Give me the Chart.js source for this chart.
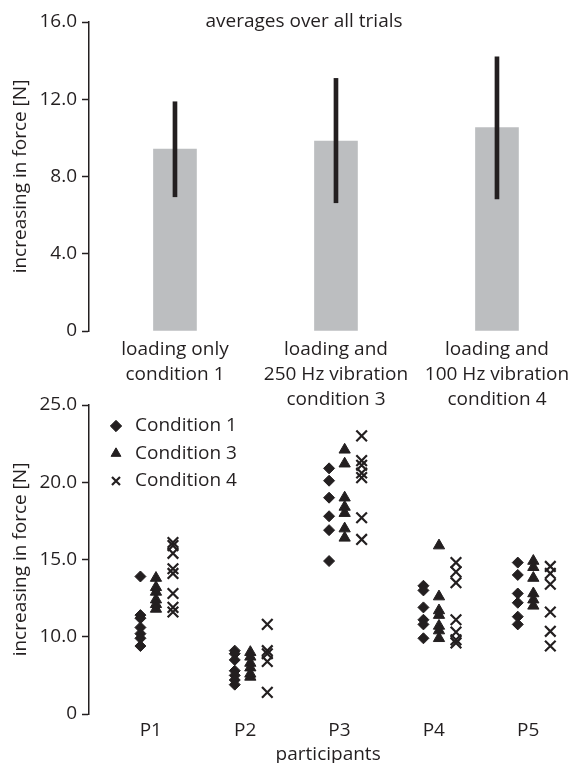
<!DOCTYPE html>
<html>
<head>
<meta charset="utf-8">
<script src="https://cdn.jsdelivr.net/npm/chart.js@4"></script>
<style>
html,body{margin:0;padding:0;background:#ffffff;}
#wrap{position:relative;width:577px;height:763px;overflow:hidden;background:#ffffff;}
#topChart{position:absolute;left:0;top:0;}
#botChart{position:absolute;left:0;top:380px;}
</style>
</head>
<body>
<div id="wrap">
<canvas id="topChart" width="577" height="420"></canvas>
<canvas id="botChart" width="577" height="383"></canvas>
</div>
<script>
// ---------- data: top chart (averages) ----------
const barCategories = [
  ["loading only", "condition 1"],
  ["loading and", "250 Hz vibration", "condition 3"],
  ["loading and", "100 Hz vibration", "condition 4"]
];
const barMeans   = [9.42, 9.84, 10.53];
const barErrLow  = [6.95, 6.64, 6.84];
const barErrHigh = [11.87, 13.08, 14.2];
const topTickValues = [0, 4, 8, 12, 16];
const topTickLabels = ["0", "4.0", "8.0", "12.0", "16.0"];

// ---------- data: bottom chart (per participant) ----------
const participants = ["P1", "P2", "P3", "P4", "P5"];
const conditionNames = ["Condition 1", "Condition 3", "Condition 4"];
const cond1 = [
  [13.9, 11.4, 11.2, 10.6, 10.2, 9.9, 9.4],
  [9.1, 8.9, 8.5, 7.8, 7.5, 7.2, 6.9],
  [20.9, 20.1, 19.0, 17.8, 16.9, 14.9],
  [13.3, 13.0, 11.9, 11.1, 10.8, 9.9],
  [14.8, 14.0, 12.8, 12.2, 11.3, 10.8]
];
const cond3 = [
  [13.8, 13.2, 12.9, 12.4, 12.1, 11.8],
  [9.0, 8.7, 8.3, 8.0, 7.6, 7.4],
  [22.1, 21.2, 19.0, 18.4, 18.0, 17.0, 16.4],
  [15.9, 12.6, 11.7, 11.4, 10.7, 10.4, 9.9],
  [14.9, 14.5, 13.8, 12.8, 12.4, 12.0]
];
const cond4 = [
  [16.1, 15.9, 15.4, 14.4, 14.1, 12.8, 11.9, 11.6],
  [10.8, 9.1, 8.9, 8.4, 6.4],
  [23.0, 21.4, 21.1, 20.6, 20.3, 17.7, 16.3],
  [14.8, 14.2, 13.5, 11.1, 10.3, 9.8, 9.6],
  [14.55, 14.1, 13.4, 11.6, 10.35, 9.4]
];
const bottomTickValues = [5, 10, 15, 20, 25];
const bottomTickLabels = ["0", "10.0", "15.0", "20.0", "25.0"];

// ---------- styling ----------
const INK = "#231f20";
const BAR = "#bcbec0";
const FONT = "'Open Sans', 'Noto Sans', sans-serif";
const FS = 19;
Chart.defaults.font.family = FONT;
Chart.defaults.color = INK;

const conditionOffsets = [-0.11, 0.055, 0.235];
const conditionStyles = [
  { pointStyle: "rectRot",  pointRadius: 5.5, borderWidth: 1 },
  { pointStyle: "triangle", pointRadius: 6.5, borderWidth: 1 },
  { pointStyle: "crossRot", pointRadius: 7.5, borderWidth: 2.2 }
];

const topTitlePlugin = {
  id: "topTitle",
  afterDraw(chart) {
    const ctx = chart.ctx;
    ctx.save();
    ctx.font = FS + "px " + FONT;
    ctx.fillStyle = INK;
    ctx.textAlign = "center";
    ctx.textBaseline = "middle";
    ctx.fillText("averages over all trials", 304, chart.chartArea.top);
    ctx.restore();
  }
};

const legendPlacePlugin = {
  id: "legendPlace",
  afterLayout(chart) {
    const lg = chart.legend;
    if (!lg) return;
    const w = lg.width, h = lg.height;
    lg.left = chart.chartArea.left + 9;
    lg.top = chart.chartArea.top + 3;
    lg.right = lg.left + w;
    lg.bottom = lg.top + h;
  }
};

// ---------- top chart ----------
new Chart(document.getElementById("topChart"), {
  type: "bar",
  data: {
    datasets: [
      {
        label: "error",
        data: barErrLow.map((v, i) => ({ x: i, y: [v, barErrHigh[i]] })),
        backgroundColor: INK,
        barThickness: 4,
        grouped: false,
        order: 1
      },
      {
        label: "mean",
        data: barMeans.map((v, i) => ({ x: i, y: v })),
        backgroundColor: BAR,
        barThickness: 43,
        grouped: false,
        order: 2
      }
    ]
  },
  options: {
    responsive: false,
    animation: false,
    devicePixelRatio: 1,
    layout: { padding: { top: 22, left: 0, right: 5, bottom: 0 } },
    plugins: { legend: { display: false }, tooltip: { enabled: false }, title: { display: false } },
    scales: {
      x: {
        type: "linear",
        min: -0.534,
        max: 2.466,
        offset: false,
        grid: { display: false, drawTicks: false },
        border: { display: false },
        afterBuildTicks: (s) => { s.ticks = barCategories.map((c, i) => ({ value: i })); },
        afterFit: (s) => { s.height = 89; },
        ticks: {
          autoSkip: false, maxRotation: 0, padding: 6.5, color: INK,
          font: { size: FS, lineHeight: 25 / FS },
          callback: (v) => barCategories[v]
        }
      },
      y: {
        min: 0,
        max: 16,
        afterBuildTicks: (s) => { s.ticks = topTickValues.map((v) => ({ value: v })); },
        afterFit: (s) => { s.width = 89; },
        grid: { drawOnChartArea: false, drawTicks: true, tickLength: 7, color: INK, tickWidth: 1.5 },
        border: { display: true, color: INK, width: 1.5 },
        ticks: {
          padding: 5, color: INK, font: { size: FS },
          callback: (v) => topTickLabels[topTickValues.indexOf(v)]
        },
        title: { display: true, text: "increasing in force [N]", color: INK, font: { size: FS }, padding: { top: 9, bottom: 0 } }
      }
    }
  },
  plugins: [topTitlePlugin]
});

// ---------- bottom chart ----------
const condData = [cond1, cond3, cond4];
new Chart(document.getElementById("botChart"), {
  type: "scatter",
  data: {
    datasets: condData.map((arr, k) => ({
      label: conditionNames[k],
      data: arr.flatMap((vals, p) => vals.map((v) => ({ x: p + 1 + conditionOffsets[k], y: v }))),
      pointStyle: conditionStyles[k].pointStyle,
      pointRadius: conditionStyles[k].pointRadius,
      borderWidth: conditionStyles[k].borderWidth,
      backgroundColor: INK,
      borderColor: INK,
      showLine: false
    }))
  },
  options: {
    responsive: false,
    animation: false,
    devicePixelRatio: 1,
    layout: { padding: { top: 25, left: 0, right: 0, bottom: 0 } },
    plugins: {
      tooltip: { enabled: false },
      legend: {
        display: true,
        position: "chartArea",
        align: "start",
        labels: {
          usePointStyle: true,
          boxWidth: FS,
          boxHeight: 8,
          padding: 8.5,
          color: INK,
          font: { size: FS }
        }
      }
    },
    scales: {
      x: {
        type: "linear",
        min: 0.345,
        max: 5.415,
        grid: { display: false, drawTicks: false },
        border: { display: false },
        afterBuildTicks: (s) => { s.ticks = participants.map((p, i) => ({ value: i + 1 })); },
        afterFit: (s) => { s.height = 49; },
        ticks: {
          autoSkip: false, maxRotation: 0, padding: 5, color: INK, font: { size: FS },
          callback: (v) => participants[v - 1]
        },
        title: { display: true, text: "participants", color: INK, font: { size: FS }, padding: { top: 0, bottom: -3 } }
      },
      y: {
        min: 5,
        max: 25,
        afterBuildTicks: (s) => { s.ticks = bottomTickValues.map((v) => ({ value: v })); },
        afterFit: (s) => { s.width = 89; },
        grid: { drawOnChartArea: false, drawTicks: true, tickLength: 7, color: INK, tickWidth: 1.5 },
        border: { display: true, color: INK, width: 1.5 },
        ticks: {
          padding: 5, color: INK, font: { size: FS },
          callback: (v) => bottomTickLabels[bottomTickValues.indexOf(v)]
        },
        title: { display: true, text: "increasing in force [N]", color: INK, font: { size: FS }, padding: { top: 9, bottom: 0 } }
      }
    }
  },
  plugins: [legendPlacePlugin]
});
</script>
</body>
</html>
